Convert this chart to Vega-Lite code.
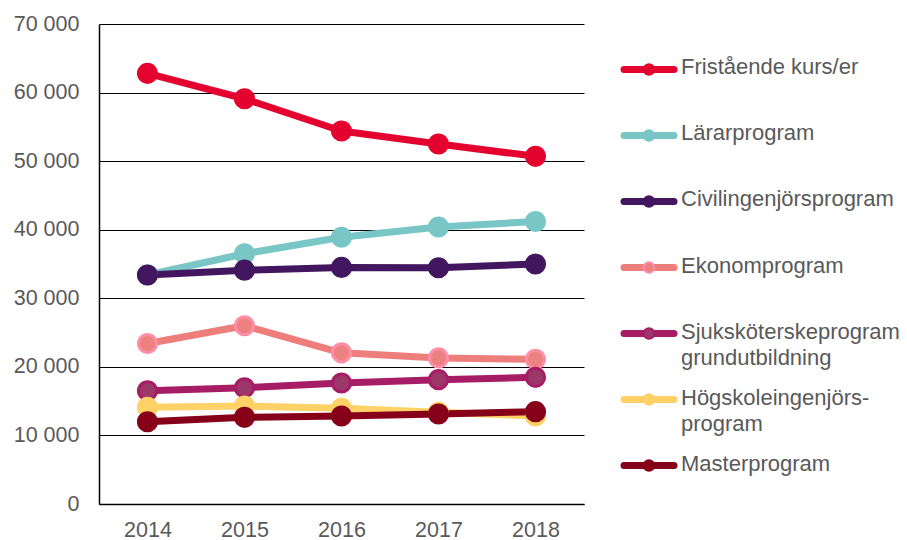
{
  "$schema": "https://vega.github.io/schema/vega-lite/v6.json",
  "padding": {"left": 13, "top": 13, "right": 0, "bottom": 0},
  "background": "white",
  "config": {
    "view": {"stroke": null},
    "font": "Liberation Sans",
    "concat": {"spacing": 36}
  },
  "datasets": {
    "main": [
      {"series": "Fristående kurs/er", "year": "2014", "value": 62800},
      {"series": "Fristående kurs/er", "year": "2015", "value": 59100},
      {"series": "Fristående kurs/er", "year": "2016", "value": 54400},
      {"series": "Fristående kurs/er", "year": "2017", "value": 52500},
      {"series": "Fristående kurs/er", "year": "2018", "value": 50700},
      {"series": "Lärarprogram", "year": "2014", "value": 33400},
      {"series": "Lärarprogram", "year": "2015", "value": 36500},
      {"series": "Lärarprogram", "year": "2016", "value": 38900},
      {"series": "Lärarprogram", "year": "2017", "value": 40400},
      {"series": "Lärarprogram", "year": "2018", "value": 41200},
      {"series": "Civilingenjörsprogram", "year": "2014", "value": 33400},
      {"series": "Civilingenjörsprogram", "year": "2015", "value": 34100},
      {"series": "Civilingenjörsprogram", "year": "2016", "value": 34500},
      {"series": "Civilingenjörsprogram", "year": "2017", "value": 34450},
      {"series": "Civilingenjörsprogram", "year": "2018", "value": 35000},
      {"series": "Ekonomprogram", "year": "2014", "value": 23400},
      {"series": "Ekonomprogram", "year": "2015", "value": 26000},
      {"series": "Ekonomprogram", "year": "2016", "value": 22050},
      {"series": "Ekonomprogram", "year": "2017", "value": 21300},
      {"series": "Ekonomprogram", "year": "2018", "value": 21100},
      {"series": "Sjuksköterskeprogram grundutbildning", "year": "2014", "value": 16500},
      {"series": "Sjuksköterskeprogram grundutbildning", "year": "2015", "value": 16950},
      {"series": "Sjuksköterskeprogram grundutbildning", "year": "2016", "value": 17650},
      {"series": "Sjuksköterskeprogram grundutbildning", "year": "2017", "value": 18130},
      {"series": "Sjuksköterskeprogram grundutbildning", "year": "2018", "value": 18470},
      {"series": "Högskoleingenjörsprogram", "year": "2014", "value": 14100},
      {"series": "Högskoleingenjörsprogram", "year": "2015", "value": 14290},
      {"series": "Högskoleingenjörsprogram", "year": "2016", "value": 13950},
      {"series": "Högskoleingenjörsprogram", "year": "2017", "value": 13370},
      {"series": "Högskoleingenjörsprogram", "year": "2018", "value": 12830},
      {"series": "Masterprogram", "year": "2014", "value": 12000},
      {"series": "Masterprogram", "year": "2015", "value": 12640},
      {"series": "Masterprogram", "year": "2016", "value": 12830},
      {"series": "Masterprogram", "year": "2017", "value": 13130},
      {"series": "Masterprogram", "year": "2018", "value": 13460}
    ],
    "legend": [
      {"series": "Fristående kurs/er", "label": "Fristående kurs/er"},
      {"series": "Lärarprogram", "label": "Lärarprogram"},
      {"series": "Civilingenjörsprogram", "label": "Civilingenjörsprogram"},
      {"series": "Ekonomprogram", "label": "Ekonomprogram"},
      {"series": "Sjuksköterskeprogram grundutbildning", "label": "Sjuksköterskeprogram\ngrundutbildning"},
      {"series": "Högskoleingenjörsprogram", "label": "Högskoleingenjörs-\nprogram"},
      {"series": "Masterprogram", "label": "Masterprogram"}
    ]
  },
  "hconcat": [
    {
      "width": 485,
      "height": 480,
      "data": {"name": "main"},
      "encoding": {
        "x": {
          "field": "year", "type": "ordinal",
          "scale": {"type": "point", "padding": 0.5},
          "axis": {
            "title": null, "labelAngle": 0, "labelFontSize": 21.5, "labelColor": "#595959",
            "ticks": false, "labelPadding": 15, "domainColor": "#000000", "domainWidth": 1.5,
            "grid": false
          }
        },
        "y": {
          "field": "value", "type": "quantitative",
          "scale": {"domain": [0, 70000], "nice": false},
          "axis": {
            "title": null, "values": [0, 10000, 20000, 30000, 40000, 50000, 60000, 70000],
            "labelExpr": "replace(format(datum.value, ','), ',', ' ')",
            "labelFontSize": 21.5, "labelColor": "#595959", "ticks": false, "labelPadding": 20,
            "domainColor": "#000000", "domainWidth": 1.5,
            "grid": true, "gridColor": "#000000", "gridWidth": 1.2
          }
        }
      },
      "layer": [
        {
          "mark": {"type": "line", "strokeWidth": 7, "strokeCap": "round", "strokeJoin": "round"},
          "encoding": {
            "color": {
              "field": "series", "type": "nominal", "legend": null,
              "scale": {
                "domain": ["Fristående kurs/er", "Lärarprogram", "Civilingenjörsprogram", "Ekonomprogram", "Sjuksköterskeprogram grundutbildning", "Högskoleingenjörsprogram", "Masterprogram"],
                "range": ["#E4032E", "#79C6C7", "#42175F", "#EE7E7C", "#A61D66", "#FFD166", "#860019"]
              }
            },
            "order": {"field": "year"}
          }
        },
        {
          "mark": {"type": "point", "filled": true, "opacity": 1, "size": 330, "strokeWidth": 3},
          "encoding": {
            "fill": {
              "field": "series", "type": "nominal", "legend": null,
              "scale": {
                "domain": ["Fristående kurs/er", "Lärarprogram", "Civilingenjörsprogram", "Ekonomprogram", "Sjuksköterskeprogram grundutbildning", "Högskoleingenjörsprogram", "Masterprogram"],
                "range": ["#E4032E", "#79C6C7", "#42175F", "#EC8280", "#9C376A", "#FFD166", "#860019"]
              }
            },
            "stroke": {
              "field": "series", "type": "nominal", "legend": null,
              "scale": {
                "domain": ["Fristående kurs/er", "Lärarprogram", "Civilingenjörsprogram", "Ekonomprogram", "Sjuksköterskeprogram grundutbildning", "Högskoleingenjörsprogram", "Masterprogram"],
                "range": ["#E4032E", "#79C6C7", "#42175F", "#FF8FA6", "#A61D66", "#FFD166", "#860019"]
              }
            }
          }
        }
      ]
    },
    {
      "width": 285,
      "height": 487,
      "data": {"name": "legend"},
      "encoding": {
        "y": {
          "field": "series", "type": "nominal", "axis": null,
          "sort": ["Fristående kurs/er", "Lärarprogram", "Civilingenjörsprogram", "Ekonomprogram", "Sjuksköterskeprogram grundutbildning", "Högskoleingenjörsprogram", "Masterprogram"],
          "scale": {"type": "point", "padding": 0.689}
        }
      },
      "layer": [
        {
          "mark": {"type": "rule", "strokeWidth": 7, "strokeCap": "round"},
          "encoding": {
            "x": {"datum": 3, "type": "quantitative", "scale": {"domain": [0, 285], "nice": false, "zero": false}, "axis": null},
            "x2": {"datum": 53},
            "color": {
              "field": "series", "type": "nominal", "legend": null,
              "scale": {
                "domain": ["Fristående kurs/er", "Lärarprogram", "Civilingenjörsprogram", "Ekonomprogram", "Sjuksköterskeprogram grundutbildning", "Högskoleingenjörsprogram", "Masterprogram"],
                "range": ["#E4032E", "#79C6C7", "#42175F", "#EE7E7C", "#A61D66", "#FFD166", "#860019"]
              }
            }
          }
        },
        {
          "mark": {"type": "point", "filled": true, "opacity": 1, "size": 110, "strokeWidth": 2},
          "encoding": {
            "x": {"datum": 28, "type": "quantitative"},
            "fill": {
              "field": "series", "type": "nominal", "legend": null,
              "scale": {
                "domain": ["Fristående kurs/er", "Lärarprogram", "Civilingenjörsprogram", "Ekonomprogram", "Sjuksköterskeprogram grundutbildning", "Högskoleingenjörsprogram", "Masterprogram"],
                "range": ["#E4032E", "#79C6C7", "#42175F", "#EC8280", "#9C376A", "#FFD166", "#860019"]
              }
            },
            "stroke": {
              "field": "series", "type": "nominal", "legend": null,
              "scale": {
                "domain": ["Fristående kurs/er", "Lärarprogram", "Civilingenjörsprogram", "Ekonomprogram", "Sjuksköterskeprogram grundutbildning", "Högskoleingenjörsprogram", "Masterprogram"],
                "range": ["#E4032E", "#79C6C7", "#42175F", "#FF8FA6", "#A61D66", "#FFD166", "#860019"]
              }
            }
          }
        },
        {
          "mark": {"type": "text", "align": "left", "baseline": "top", "dy": -12, "fontSize": 22, "color": "#595959", "lineBreak": "\n", "lineHeight": 26},
          "encoding": {
            "x": {"datum": 60, "type": "quantitative"},
            "text": {"field": "label"}
          }
        }
      ]
    }
  ]
}
